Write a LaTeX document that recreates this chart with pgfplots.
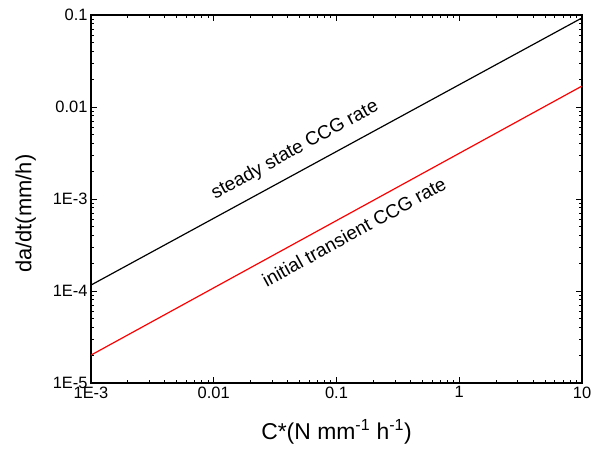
\documentclass[border=0pt]{standalone}
\usepackage{fontspec}
\setmainfont{Liberation Sans}
\usepackage{pgfplots}
\pgfplotsset{compat=1.18}
\usetikzlibrary{calc}

\begin{document}
\begin{tikzpicture}
\begin{axis}[
  xmode=log, ymode=log,
  scale only axis,
  width=491bp, height=368bp,
  xmin=1e-3, xmax=10, ymin=1e-5, ymax=0.1,
  xtick={1e-3,0.01,0.1,1,10},
  xticklabels={1E-3,0.01,0.1,1,10},
  ytick={1e-5,1e-4,1e-3,0.01,0.1},
  yticklabels={1E-5,1E-4,1E-3,0.01,0.1},
  tick align=inside,
  major tick length=6bp, minor tick length=3.5bp,
  every tick/.style={black, line width=0.9pt},
  axis line style={line width=1.1pt},
  tick label style={font=\fontsize{16.5}{18}\selectfont},
  xlabel={C*(N mm\textsuperscript{-1} h\textsuperscript{-1})},
  ylabel={da/dt(mm/h)},
  xlabel style={font=\fontsize{23}{25}\selectfont, yshift=-14bp},
  ylabel style={font=\fontsize{22}{24}\selectfont, at={(ticklabel cs:0.46)}, yshift=10bp},
  clip=false,
]
\addplot[black, line width=1.2pt] coordinates {(1e-3,1.16e-4) (10,0.093)};
\addplot[red, line width=1.2pt] coordinates {(1e-3,2.01e-5) (10,0.0169)};
\node[rotate=28.7, font=\fontsize{19}{20}\selectfont] at (axis cs:0.046,3.4e-3) {steady state CCG rate};
\node[rotate=28.7, font=\fontsize{19}{20}\selectfont] at (axis cs:0.139,4.4e-4) {initial transient CCG rate};
\end{axis}
\path ($(current axis.south west)+(-91bp,-68bp)$) rectangle ($(current axis.north east)+(20bp,15bp)$);
\end{tikzpicture}
\end{document}
